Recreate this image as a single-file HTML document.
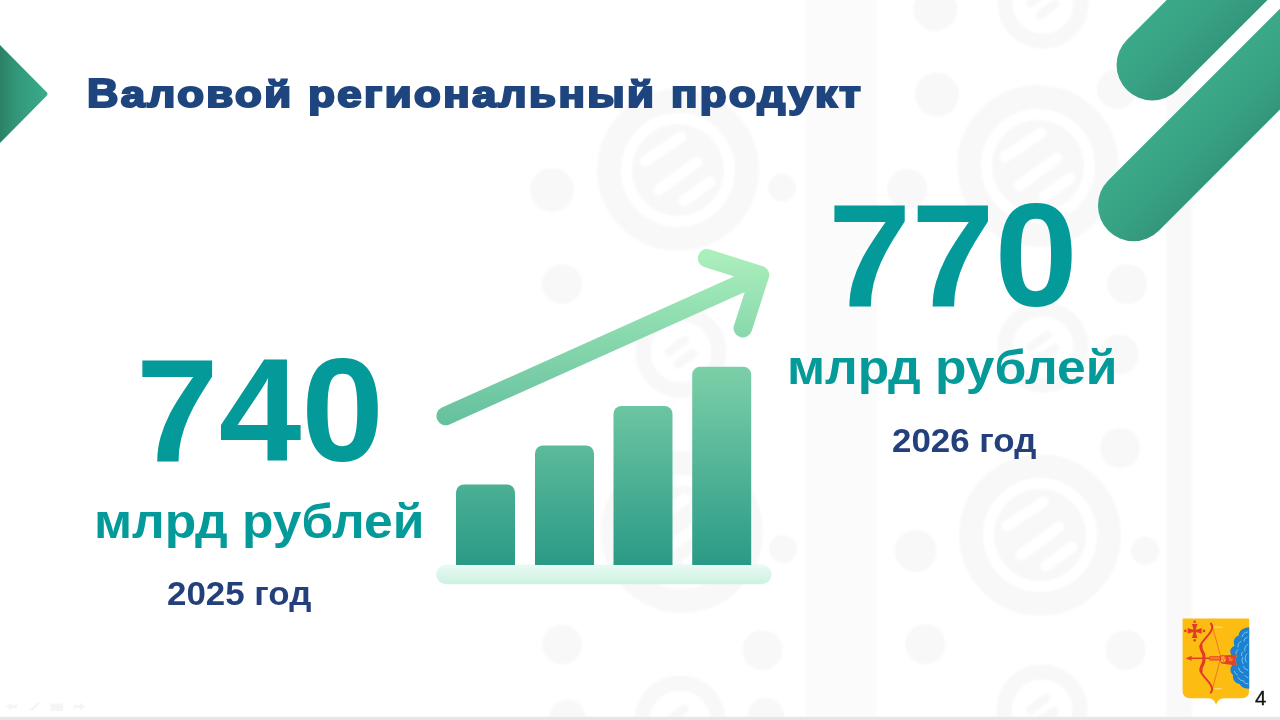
<!DOCTYPE html>
<html lang="ru">
<head>
<meta charset="utf-8">
<title>Валовой региональный продукт</title>
<style>
  html, body { margin: 0; padding: 0; }
  body {
    width: 1280px; height: 720px; position: relative; overflow: hidden;
    background: #ffffff;
    font-family: "Liberation Sans", sans-serif;
  }
  #gfx { position: absolute; left: 0; top: 0; width: 1280px; height: 720px; }
  .t {
    position: absolute; white-space: nowrap; line-height: 1;
    font-family: "Liberation Sans", sans-serif; font-weight: bold;
    transform-origin: 0 0;
  }
  .teal { color: #049a9a; }
  .navy { color: #233f7c; }
  #title { left: 86.6px; top: 73px; font-size: 37.4px; color: #1f457f; line-height: 40px;
           -webkit-text-stroke: 2.2px #1f457f; transform: scaleX(1.17); letter-spacing: 2.08px; }
  #title b { font-size: 40.4px; font-weight: bold; display: inline-block; transform: scaleX(0.92); transform-origin: 0 100%; margin-right: -2.4px; }
  #n740 { left: 136.4px; top: 337px; font-size: 147px; transform: scaleX(1.011); }
  #n770 { left: 828.1px; top: 182px; font-size: 147px; transform: scaleX(1.019); }
  #u1 { left: 94px; top: 498px; font-size: 48px; transform: scaleX(1.073); }
  #u2 { left: 787px; top: 344px; font-size: 48px; transform: scaleX(1.073); }
  #y1 { left: 167px; top: 578px; font-size: 32.5px; transform: scaleX(1.073); }
  #y2 { left: 892px; top: 424.5px; font-size: 32.5px; transform: scaleX(1.073); }
  #pg { left: 1255.1px; top: 687.8px; font-size: 20.3px; font-weight: normal; color: #111; -webkit-text-stroke: 0.3px #111; }
</style>
</head>
<body>
<svg id="gfx" viewBox="0 0 1280 720" width="1280" height="720">
  <defs>
    <linearGradient id="gTri" x1="0" y1="0" x2="1" y2="0">
      <stop offset="0" stop-color="#2b8166"/>
      <stop offset="0.35" stop-color="#33977a"/>
      <stop offset="1" stop-color="#3bad8b"/>
    </linearGradient>
    <linearGradient id="gS1" gradientUnits="userSpaceOnUse" x1="1127" y1="39.7" x2="1177.400" y2="90.100">
      <stop offset="0" stop-color="#3ba989"/>
      <stop offset="0.5" stop-color="#38a384"/>
      <stop offset="1" stop-color="#34967b"/>
    </linearGradient>
    <linearGradient id="gS2" gradientUnits="userSpaceOnUse" x1="1108.300" y1="180.300" x2="1158.700" y2="230.700">
      <stop offset="0" stop-color="#3ba989"/>
      <stop offset="0.5" stop-color="#38a384"/>
      <stop offset="1" stop-color="#34967b"/>
    </linearGradient>
    <linearGradient id="gIcon" gradientUnits="userSpaceOnUse" x1="0" y1="256" x2="0" y2="565">
      <stop offset="0" stop-color="#aaeebb"/>
      <stop offset="1" stop-color="#2a9a86"/>
    </linearGradient>
    <filter id="soft" x="0" y="0" width="1280" height="720" filterUnits="userSpaceOnUse"><feGaussianBlur stdDeviation="1.2"/></filter>
    <filter id="soft2" x="0" y="690" width="120" height="30" filterUnits="userSpaceOnUse"><feGaussianBlur stdDeviation="0.7"/></filter>
    <linearGradient id="gBase" x1="0" y1="0" x2="0" y2="1">
      <stop offset="0" stop-color="#e9faf4"/>
      <stop offset="1" stop-color="#cdf1e0"/>
    </linearGradient>
  </defs>

  <!-- background pattern placeholder -->
  <g id="bgpat" filter="url(#soft)">
    <rect x="806" y="0" width="71" height="720" fill="#fbfbfb"/>
    <rect x="1166" y="0" width="26.500" height="720" fill="#f9f9f9"/>
    <g transform="translate(678 170)">
      <circle r="69" fill="none" stroke="#f8f8f8" stroke-width="24"/>
      <circle r="46" fill="#f8f8f8"/>
      <g stroke="#ffffff" stroke-width="11" stroke-linecap="round">
        <line x1="-33" y1="-9" x2="3" y2="-33"/>
        <line x1="-19" y1="20" x2="19" y2="-8"/>
        <line x1="6" y1="31" x2="32" y2="12"/>
      </g>
    </g>
    <g transform="translate(1038 166)">
      <circle r="69" fill="none" stroke="#f8f8f8" stroke-width="24"/>
      <circle r="46" fill="#f8f8f8"/>
      <g stroke="#ffffff" stroke-width="11" stroke-linecap="round">
        <line x1="-33" y1="-9" x2="3" y2="-33"/>
        <line x1="-19" y1="20" x2="19" y2="-8"/>
        <line x1="6" y1="31" x2="32" y2="12"/>
      </g>
    </g>
    <g transform="translate(1040 535)">
      <circle r="69" fill="none" stroke="#f8f8f8" stroke-width="24"/>
      <circle r="46" fill="#f8f8f8"/>
      <g stroke="#ffffff" stroke-width="11" stroke-linecap="round">
        <line x1="-33" y1="-9" x2="3" y2="-33"/>
        <line x1="-19" y1="20" x2="19" y2="-8"/>
        <line x1="6" y1="31" x2="32" y2="12"/>
      </g>
    </g>
    <g transform="translate(682 532)">
      <circle r="69" fill="none" stroke="#f8f8f8" stroke-width="24"/>
      <circle r="46" fill="#f8f8f8"/>
      <g stroke="#ffffff" stroke-width="11" stroke-linecap="round">
        <line x1="-33" y1="-9" x2="3" y2="-33"/>
        <line x1="-19" y1="20" x2="19" y2="-8"/>
        <line x1="6" y1="31" x2="32" y2="12"/>
      </g>
    </g>
    <g transform="translate(1043 3)">
      <circle r="38" fill="none" stroke="#f8f8f8" stroke-width="15"/>
      <g stroke="#f8f8f8" stroke-width="9" stroke-linecap="round">
        <line x1="-12" y1="0" x2="4" y2="-12"/>
        <line x1="-3" y1="12" x2="12" y2="1"/>
      </g>
    </g>
    <g transform="translate(1042 710)">
      <circle r="38" fill="none" stroke="#f8f8f8" stroke-width="15"/>
      <g stroke="#f8f8f8" stroke-width="9" stroke-linecap="round">
        <line x1="-12" y1="0" x2="4" y2="-12"/>
        <line x1="-3" y1="12" x2="12" y2="1"/>
      </g>
    </g>
    <g transform="translate(680 721)">
      <circle r="38" fill="none" stroke="#f8f8f8" stroke-width="15"/>
      <g stroke="#f8f8f8" stroke-width="9" stroke-linecap="round">
        <line x1="-12" y1="0" x2="4" y2="-12"/>
        <line x1="-3" y1="12" x2="12" y2="1"/>
      </g>
    </g>
    <g transform="translate(681 352)">
      <circle r="38" fill="none" stroke="#f8f8f8" stroke-width="15"/>
      <g stroke="#f8f8f8" stroke-width="9" stroke-linecap="round">
        <line x1="-12" y1="0" x2="4" y2="-12"/>
        <line x1="-3" y1="12" x2="12" y2="1"/>
      </g>
    </g>
    <g transform="translate(1043 347)">
      <circle r="38" fill="none" stroke="#f8f8f8" stroke-width="15"/>
      <g stroke="#f8f8f8" stroke-width="9" stroke-linecap="round">
        <line x1="-12" y1="0" x2="4" y2="-12"/>
        <line x1="-3" y1="12" x2="12" y2="1"/>
      </g>
    </g>
    <circle cx="1127" cy="284" r="20" fill="#f8f8f8"/>
    <circle cx="1119" cy="354.6" r="20" fill="#f8f8f8"/>
    <circle cx="552" cy="190" r="22" fill="#f8f8f8"/>
    <circle cx="562" cy="284" r="20" fill="#f8f8f8"/>
    <circle cx="782" cy="187.8" r="14" fill="#f8f8f8"/>
    <circle cx="915.6" cy="550.8" r="21" fill="#f8f8f8"/>
    <circle cx="925.3" cy="644.2" r="20" fill="#f8f8f8"/>
    <circle cx="783" cy="549" r="14" fill="#f8f8f8"/>
    <circle cx="1145" cy="550.8" r="14" fill="#f8f8f8"/>
    <circle cx="1125.6" cy="650" r="20" fill="#f8f8f8"/>
    <circle cx="1120" cy="448" r="20" fill="#f8f8f8"/>
    <circle cx="935.4" cy="8.9" r="22" fill="#f8f8f8"/>
    <circle cx="937" cy="94.7" r="22" fill="#f8f8f8"/>
    <circle cx="907.3" cy="189" r="20" fill="#f8f8f8"/>
    <circle cx="1117" cy="89" r="20" fill="#f8f8f8"/>
    <circle cx="562" cy="644.4" r="20" fill="#f8f8f8"/>
    <circle cx="762.5" cy="650" r="20" fill="#f8f8f8"/>
    <circle cx="567.5" cy="717.5" r="18" fill="#f8f8f8"/>
    <circle cx="766" cy="715.6" r="18" fill="#f8f8f8"/>
  </g>

  <!-- left triangle -->
  <path d="M0 45 L46.5 92 Q48.5 94 46.5 96 L0 143 Z" fill="url(#gTri)"/>

  <!-- top-right stripes -->
  <g id="stripes">
    <line x1="1152.200" y1="64.900" x2="1352.200" y2="-135.100" stroke="url(#gS1)" stroke-width="71.300" stroke-linecap="round"/>
    <line x1="1133.600" y1="205.500" x2="1433.600" y2="-94.500" stroke="url(#gS2)" stroke-width="71.300" stroke-linecap="round"/>
  </g>

  <!-- chart icon -->
  <g id="chart">
    <rect x="436.2" y="564.6" width="335.3" height="19.6" rx="9.8" fill="url(#gBase)"/>
    <path d="M456 565 V492.5 a8 8 0 0 1 8 -8 H507 a8 8 0 0 1 8 8 V565 Z" fill="url(#gIcon)"/>
    <path d="M535 565 V453.5 a8 8 0 0 1 8 -8 H586 a8 8 0 0 1 8 8 V565 Z" fill="url(#gIcon)"/>
    <path d="M613.5 565 V414 a8 8 0 0 1 8 -8 H664.500 a8 8 0 0 1 8 8 V565 Z" fill="url(#gIcon)"/>
    <path d="M692.200 565 V374.700 a8 8 0 0 1 8 -8 H743.200 a8 8 0 0 1 8 8 V565 Z" fill="url(#gIcon)"/>
    <path d="M445.700 416 L760 275 M707 258.300 L760 275 L742.800 328.300" fill="none"
          stroke="url(#gIcon)" stroke-width="18.500" stroke-linecap="round" stroke-linejoin="round"/>
  </g>


  <!-- coat of arms -->
  <g id="coat">
    <path d="M1182.600 618.600 H1249.200 V690.500 Q1249.200 698.300 1241.500 698.300 H1224 Q1217.800 698.300 1216.100 705 Q1214.400 698.300 1208.200 698.300 H1190.300 Q1182.600 698.300 1182.600 690.500 Z" fill="#fdbc12"/>
    <!-- cloud -->
    <path d="M1249.200 627.300 C1243.500 627.600 1239 630.500 1238.600 635.500 C1234.300 636.800 1232.600 641.500 1234.600 645.800 C1230.600 647.300 1229 651.500 1231.400 655 L1233 656.200 L1236.800 655 L1235.600 660.200 L1236.800 665.400 L1232.500 664.700 C1229.600 667.500 1229.800 672.500 1233 675 C1232.300 679.500 1235.300 683.300 1239.500 684 C1241.500 687.300 1245 688.800 1249.200 688.800 Z" fill="#1c82d0"/>
    <g fill="none" stroke="#7cc2f0" stroke-width="1" stroke-linecap="round">
      <path d="M1247.500 632 q-4.500 0.500 -5.500 4.800 M1247 637.200 q-3 1 -3.200 4"/>
      <path d="M1241 641.500 q-3.500 1.500 -3 5.500 M1247.800 644.500 q-4 2 -3 6.500"/>
      <path d="M1238 649.500 q-3 1.500 -2 4.500 M1242.500 652 q-1.500 1.500 -1 3.500"/>
      <path d="M1246.800 654 q-3.200 3.500 -0.500 8 M1242.500 657.500 q-1.500 3 0.500 6"/>
      <path d="M1238.500 668 q0.500 4 4.500 5 M1243.500 666.500 q1 3.200 4.300 3.700"/>
      <path d="M1234.500 671.500 q0.500 2.500 3 3.500"/>
      <path d="M1238 677.500 q1.500 3.500 5.500 3.500 M1243.500 681.500 q2 2.500 4.500 2.500 M1245 675.500 q1.200 2 3 2.200"/>
    </g>
    <!-- bow string -->
    <path d="M1212.500 627 L1220.800 657.200 L1212.200 690" fill="none" stroke="#e4502c" stroke-width="0.65"/>
    <!-- arrow -->
    <path d="M1190.500 658.300 H1211" stroke="#e13b2a" stroke-width="1.500" fill="none"/>
    <path d="M1185.700 658.300 L1191.900 655.800 L1191.200 658.300 L1191.900 660.800 Z" fill="#e13b2a"/>
    <!-- bow -->
    <path d="M1210.900 623.500 C1213.200 626.200 1212.200 629.200 1210.500 632 C1208.300 635.600 1203.400 640 1201.200 644 C1199.700 647.200 1201.600 650.500 1203.100 653 C1204.200 655 1204 657 1204 658.300 C1204 659.600 1204.200 661.500 1203.100 663.500 C1201.600 666 1199.700 669.200 1201.200 672.500 C1203.400 676.500 1208.300 681 1210.500 684.600 C1212.200 687.400 1213.200 690.200 1210.800 692.600"
          fill="none" stroke="#e13b2a" stroke-width="2" stroke-linecap="round" stroke-linejoin="round"/>
    <path d="M1201.100 645.500 C1200.300 648 1202 651 1203.300 653.500 C1204.200 655.500 1203.900 657 1203.900 658.300 C1203.900 659.600 1204.200 661 1203.300 663 C1202 665.500 1200.300 668.500 1201.100 671"
          fill="none" stroke="#e13b2a" stroke-width="3.100" stroke-linecap="round"/>
    <!-- hand and sleeve -->
    <path d="M1209.400 656.200 H1220.300 L1221 655.300 H1227 L1236.800 654.600 L1235.500 660.200 L1236.800 665.800 L1227 664.200 L1221.500 663.600 L1219.800 660.400 H1209.400 Z" fill="#e4402a"/>
    <path d="M1210 657 H1219.800 V659.600 H1210 Z" fill="#f47a20"/>
    <path d="M1220.800 656.800 q2.400 -1.300 4.400 0.200 q1.300 2.500 -0.300 5 q-2.500 0.900 -4.100 -1 q1 -2.100 0 -4.200 Z" fill="#fcb716"/>
    <path d="M1222.200 657.600 l1.800 4 M1224 657.200 l1 2.200" stroke="#e4402a" stroke-width="0.600" fill="none"/>
    <path d="M1228.500 657.300 l2 -0.800 l0.500 2 l1.800 -0.500 l-0.300 3 l-3.500 0.300 Z" fill="#f47a20"/>
    <!-- glints -->
    <path d="M1214.800 626.800 L1222 627.400 M1214.800 688.900 L1221 688.700" stroke="#fff0c8" stroke-width="0.700" fill="none" stroke-linecap="round"/>
    <!-- cross -->
    <g fill="#e13b2a">
      <path d="M1194.700 632.200 L1191.900 623.900 H1197.500 Z M1194.700 629.600 L1191.900 637.900 H1197.500 Z M1196 630.900 L1187.700 628.100 V633.700 Z M1193.400 630.900 L1201.700 628.100 V633.700 Z"/>
      <rect x="1193.500" y="625" width="2.400" height="11.800"/>
      <rect x="1188.800" y="629.700" width="11.800" height="2.400"/>
      <circle cx="1194.700" cy="621.700" r="1.300"/>
      <circle cx="1194.700" cy="640.200" r="1.300"/>
      <circle cx="1185.400" cy="630.900" r="1.300"/>
      <circle cx="1204" cy="630.900" r="1.300"/>
    </g>
  </g>

  <!-- faint slideshow nav icons -->
  <g id="nav" fill="#f5f5f5" stroke="none" filter="url(#soft2)">
    <path d="M6 706.500 L11 702.500 V704.800 H17 V708.200 H11 V710.500 Z"/>
    <path d="M30 711 L31 708 L38.500 702 L40 703.500 L33 710 Z"/>
    <rect x="50.500" y="703.500" width="12.500" height="7.500"/>
    <path d="M85 706.500 L80 702.500 V704.800 H73.500 V708.200 H80 V710.500 Z"/>
  </g>
  <!-- bottom bar -->
  <rect x="0" y="717" width="1280" height="3" fill="#e6e6e6"/>
  <rect x="0" y="716.500" width="1280" height="0.600" fill="#f3f3f3"/>
</svg>

<div id="title" class="t"><b>В</b>аловой региональный продукт</div>
<div id="n740" class="t teal">740</div>
<div id="u1" class="t teal">млрд рублей</div>
<div id="y1" class="t navy">2025 год</div>
<div id="n770" class="t teal">770</div>
<div id="u2" class="t teal">млрд рублей</div>
<div id="y2" class="t navy">2026 год</div>
<div id="pg" class="t">4</div>
</body>
</html>
